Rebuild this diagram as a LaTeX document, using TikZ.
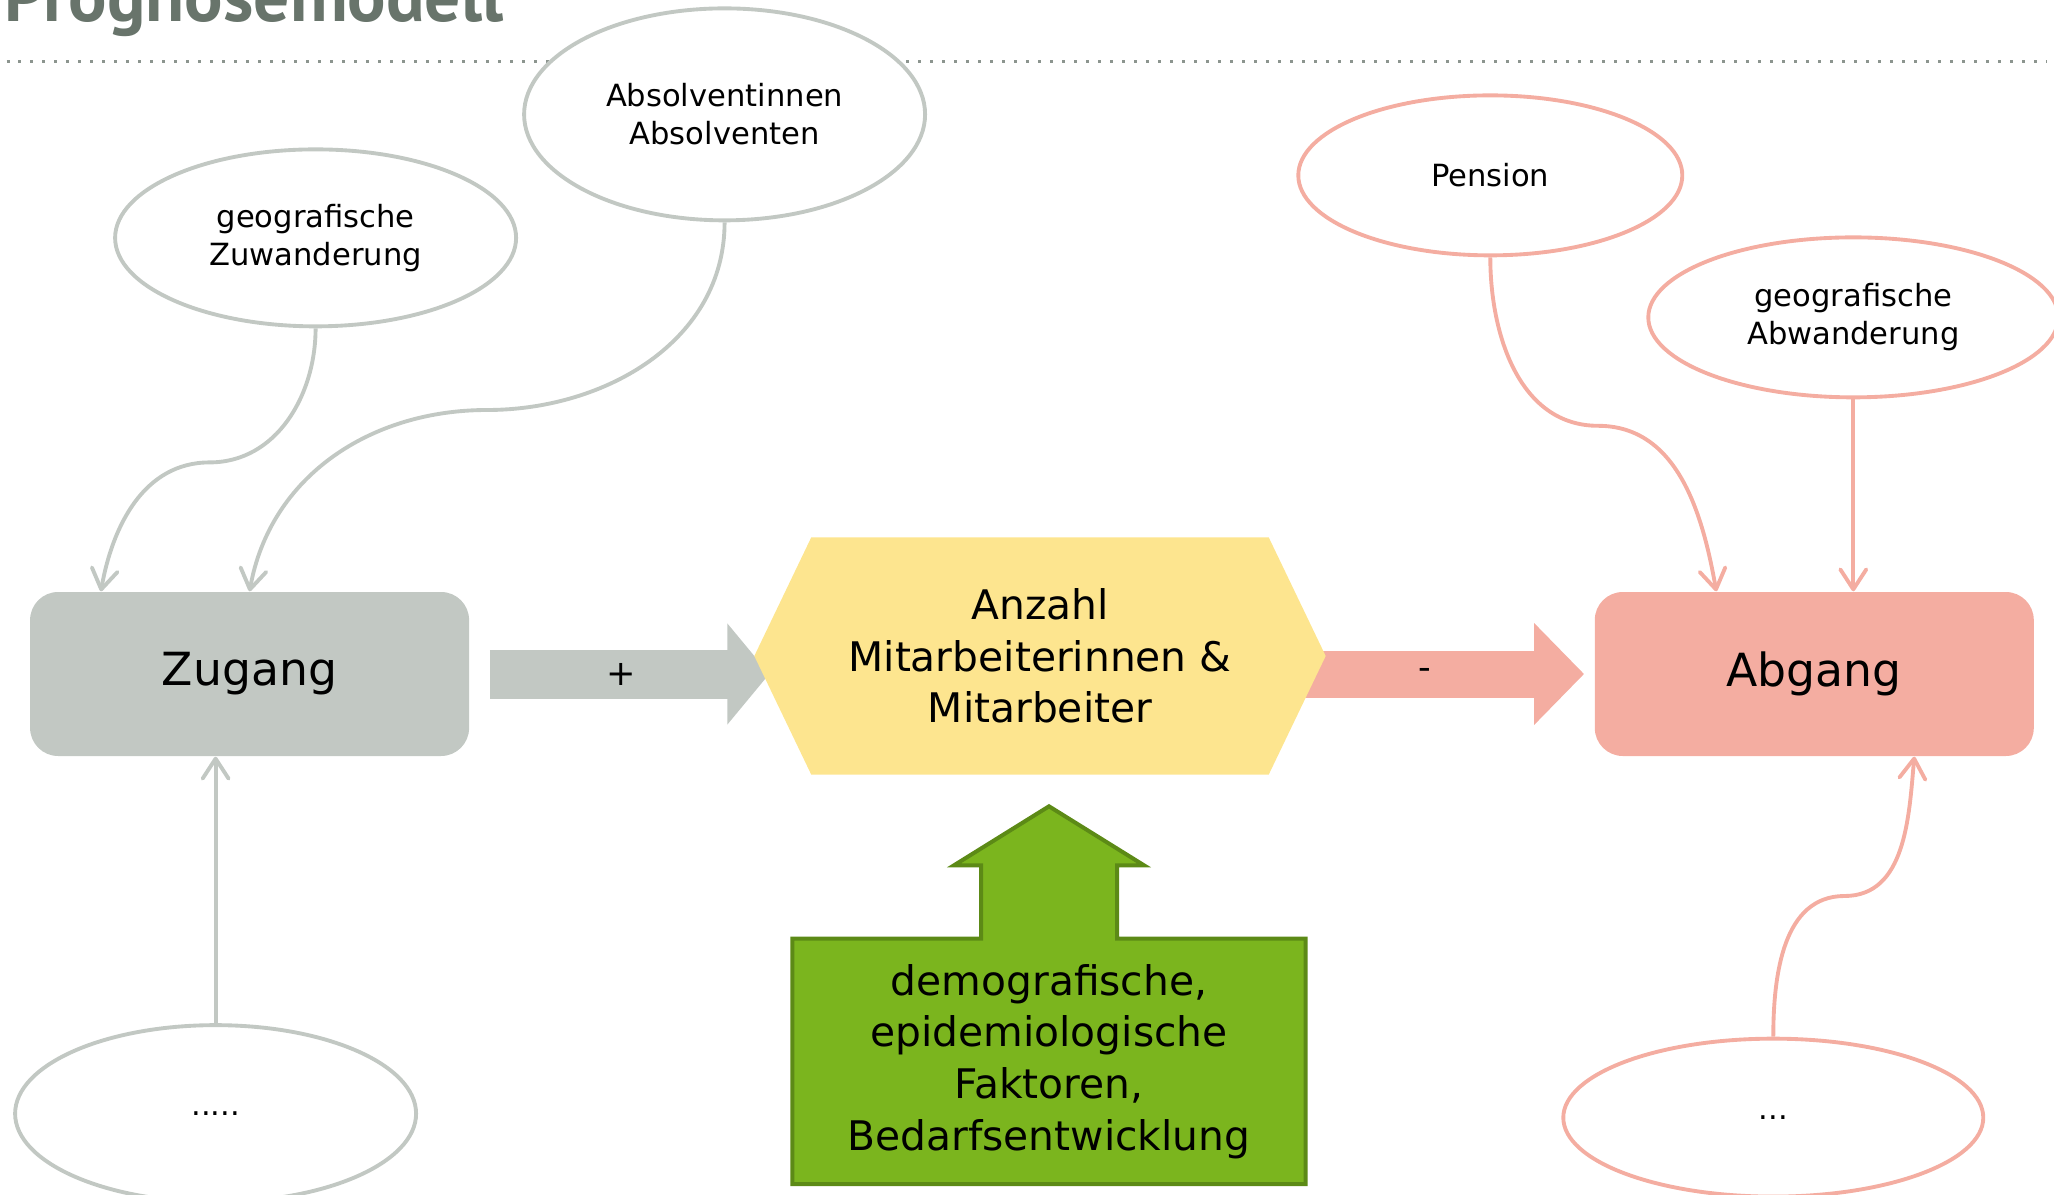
\documentclass[tikz,border=0pt]{standalone}
\usepackage{fontspec}
\setmainfont{DejaVu Sans}
\newfontfamily\titlefont{PT Sans}
\usetikzlibrary{positioning}
\usetikzlibrary{shapes.geometric}
\usetikzlibrary{arrows.meta}
\usetikzlibrary{backgrounds}
\usepackage{xcolor}

\definecolor{zgray}{HTML}{C2C8C3}
\definecolor{apink}{HTML}{F4ADA1}
\definecolor{hexyellow}{HTML}{FDE58F}
\definecolor{fakgreen}{HTML}{7BB51E}
\definecolor{fakborder}{HTML}{5C8A16}
\definecolor{titlegray}{HTML}{68746B}
\definecolor{dotgray}{HTML}{8C958F}

\tikzset{
  ell/.style={ellipse, draw, fill=white, line width=1.1pt, inner sep=0pt, align=center, font=\fontsize{8.7}{10.8}\selectfont},
  box/.style={rectangle, rounded corners=0.28cm, minimum width=4.39cm, minimum height=1.64cm, font=\fontsize{13}{15}\selectfont},
  flow/.style={line width=1.1pt, -{Straight Barb[length=0.2cm,width=0.26cm,round]}},
}

\begin{document}
\begin{tikzpicture}
    \useasboundingbox (0,0) rectangle (20.54,-11.95);
    \clip (0,0) rectangle (20.54,-11.95);

    %nodes
    \node[anchor=base west, inner sep=0, text=titlegray, font=\titlefont\bfseries\fontsize{20.4}{21}\selectfont] (title) at (0.04,-0.22) {Prognosemodell};
    \node[box, fill=zgray] (zugang) at (2.496,-6.74) {Zugang};
    \node[box, fill=apink] (abgang) at (18.143,-6.74) {Abgang};
    \node[minimum width=4.56cm, minimum height=2.36cm, align=center, font=\fontsize{11.6}{14.7}\selectfont] (anz) at (10.40,-6.56) {Anzahl\\Mitarbeiterinnen \&\\Mitarbeiter};
    \node[below=1.64cm of anz, xshift=0.09cm, minimum width=5.12cm, minimum height=2.44cm, align=center, font=\fontsize{11.6}{14.7}\selectfont] (fak) {demografische,\\epidemiologische\\Faktoren,\\Bedarfsentwicklung};
    \node[ell, draw=zgray, minimum width=4.01cm, minimum height=1.77cm, above=2.63cm of zugang, xshift=0.66cm] (zuw) {geografische\\Zuwanderung};
    \node[ell, draw=zgray, minimum width=4.01cm, minimum height=2.12cm, above=3.69cm of zugang, xshift=4.75cm] (absv) {Absolventinnen\\Absolventen};
    \node[ell, draw=zgray, minimum width=4.01cm, minimum height=1.77cm, below=2.665cm of zugang, xshift=-0.34cm] (dotsl) {.....};
    \node[ell, draw=apink, minimum width=3.84cm, minimum height=1.60cm, above=3.34cm of abgang, xshift=-3.24cm] (pens) {Pension};
    \node[ell, draw=apink, minimum width=4.10cm, minimum height=1.60cm, above=1.92cm of abgang, xshift=0.39cm] (abw) {geografische\\Abwanderung};
    \node[ell, draw=apink, minimum width=4.20cm, minimum height=1.58cm, below=2.80cm of abgang, xshift=-0.41cm] (dotsr) {...};

    % bends
    \coordinate (zb) at (2.096,-4.624);
    \coordinate (ab) at (4.87,-4.10);
    \coordinate (pb) at (15.98,-4.258);
    \coordinate (db) at (18.445,-8.96);

    % edges
    \draw[flow, zgray] (zuw.south) to[out=-90,in=0] (zb) to[out=180,in=80] ([xshift=-1.487cm]zugang.north);
    \draw[flow, zgray] (absv.south) to[out=-90,in=0] (ab) to[out=180,in=80] (zugang.north);
    \draw[flow, zgray] (dotsl.north) -- (dotsl.north |- zugang.south);
    \draw[flow, apink] (pens.south) to[out=-90,in=180] (pb) to[out=0,in=100] ([xshift=-0.98cm]abgang.north);
    \draw[flow, apink] (abw.south) -- (abw.south |- abgang.north);
    \draw[flow, apink] (dotsr.north) to[out=90,in=180] (db) to[out=0,in=-95] ([xshift=1.0cm]abgang.south);

    \begin{scope}[on background layer]
    % rule
    \draw[dotgray, line width=0.03cm, dash pattern=on 0.03cm off 0.09cm] (0.065,-0.62) -- (20.47,-0.62);
    % block arrows
    \draw[zgray, line width=0.49cm, shorten >=0.42cm, -{Triangle[length=0.42cm,width=0.99cm]}] ([xshift=0.2cm]zugang.east) -- (zugang.east -| anz.west) node[pos=0.41, text=black, font=\fontsize{10}{12}\selectfont] (plus) {+};
    \draw[apink, line width=0.47cm, shorten >=0.1cm, -{Triangle[length=0.5cm,width=0.99cm]}] (abgang.west -| anz.east) -- (abgang.west) node[pos=0.48, text=black, font=\fontsize{10}{12}\selectfont] (minus) {-};
    % hexagon
    \fill[hexyellow] (anz.north west) -- (anz.north east) -- ([xshift=0.57cm]anz.east) -- (anz.south east) -- (anz.south west) -- ([xshift=-0.57cm]anz.west) -- cycle;
    % factor arrow
    \draw[fakborder, fill=fakgreen, line width=0.04cm] (fak.south west) -- (fak.north west) -- ([xshift=-0.68cm]fak.north) -- ++(0,0.734) -- ++(-0.27,0) -- ++(0.95,0.59) -- ++(0.95,-0.59) -- ++(-0.27,0) -- ++(0,-0.734) -- (fak.north east) -- (fak.south east) -- cycle;
    \end{scope}
\end{tikzpicture}
\end{document}
